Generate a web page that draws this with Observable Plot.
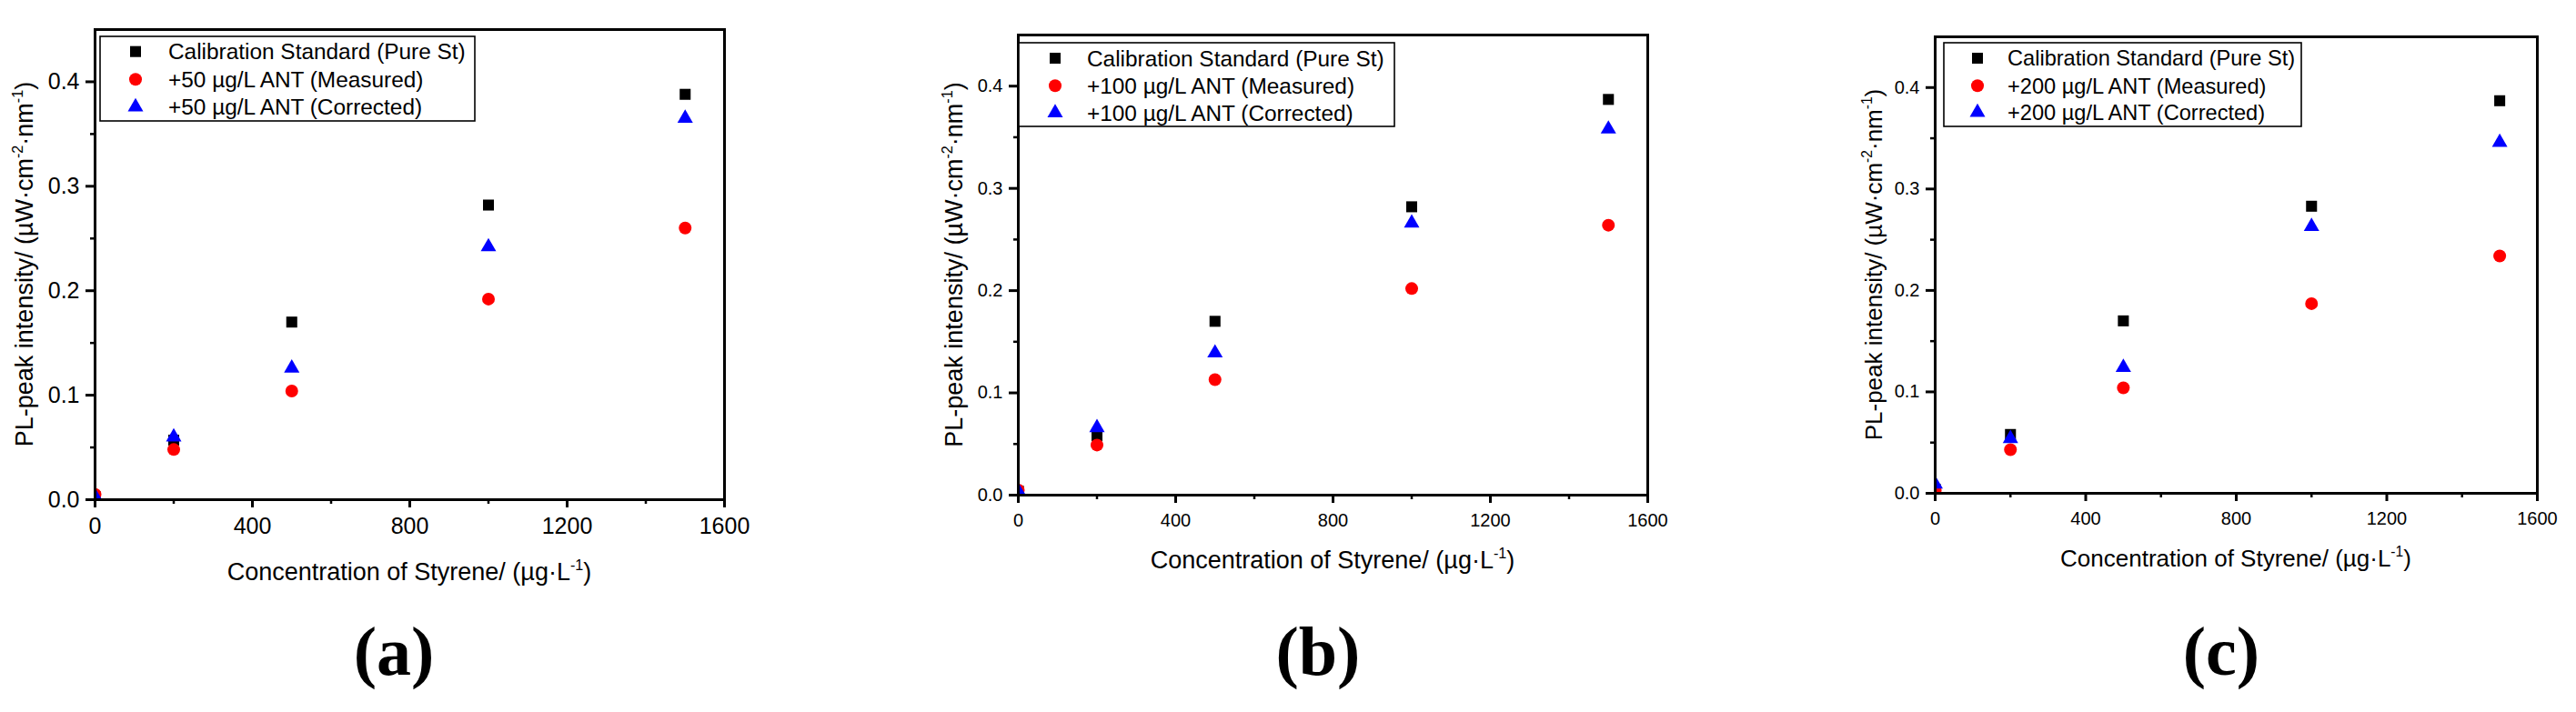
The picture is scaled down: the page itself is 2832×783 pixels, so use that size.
<!DOCTYPE html>
<html><head><meta charset="utf-8">
<script src="https://cdn.jsdelivr.net/npm/d3@7"></script>
<script src="https://cdn.jsdelivr.net/npm/@observablehq/plot@0.6"></script>
<style>
html,body{margin:0;padding:0;background:#fff;}
#wrap{position:relative;width:2832px;height:783px;overflow:hidden;background:#fff;}
.panel{position:absolute;top:0;}
</style></head><body><div id="wrap"></div>
<script>
// ---- data ----
const concentration = [0, 200, 500, 1000, 1500];

const standardA  = [0.003, 0.057, 0.170, 0.282, 0.388];
const measuredA  = [0.005, 0.048, 0.104, 0.192, 0.260];
const correctedA = [0.003, 0.060, 0.126, 0.242, 0.365];

const standardB  = [0.004, 0.058, 0.170, 0.282, 0.387];
const measuredB  = [0.005, 0.049, 0.113, 0.202, 0.264];
const correctedB = [0.004, 0.066, 0.139, 0.266, 0.358];

const standardC  = [0.004, 0.058, 0.170, 0.283, 0.387];
const measuredC  = [0.003, 0.043, 0.104, 0.187, 0.234];
const correctedC = [0.009, 0.054, 0.124, 0.263, 0.346];

const namesA = ["Calibration Standard (Pure St)", "+50 µg/L ANT (Measured)", "+50 µg/L ANT (Corrected)"];
const namesB = ["Calibration Standard (Pure St)", "+100 µg/L ANT (Measured)", "+100 µg/L ANT (Corrected)"];
const namesC = ["Calibration Standard (Pure St)", "+200 µg/L ANT (Measured)", "+200 µg/L ANT (Corrected)"];

const panelLetters = ["(a)", "(b)", "(c)"];

const xTicks = [0, 400, 800, 1200, 1600];
const xMinor = [200, 600, 1000, 1400];
const yTicks = [0, 0.1, 0.2, 0.3, 0.4];
const yMinor = [0.05, 0.15, 0.25, 0.35];
const xDomain = [0, 1600];
const yDomain = [0, 0.45];

// ---- layout ----
const panels = [
  {series:[standardA, measuredA, correctedA], names:namesA, letter:panelLetters[0],
   left:0, ml:104, mr:148, mt:32, mb:234, tickFs:25, titleFs:27,
   legend:{x0:110, y0:40, x1:522, y1:133, sx:149, tx:185, rows:[56.7, 87.3, 117.5], fs:24.4},
   xTitleY:638, yTitleX:36, letterX:433},
  {series:[standardB, measuredB, correctedB], names:namesB, letter:panelLetters[1],
   left:944, ml:175, mr:77, mt:38, mb:239, tickFs:20, titleFs:27,
   legend:{x0:176, y0:47, x1:589, y1:139, sx:216, tx:251, rows:[64, 94.3, 124], fs:24.4},
   xTitleY:625, yTitleX:114, letterX:505},
  {series:[standardC, measuredC, correctedC], names:namesC, letter:panelLetters[2],
   left:1888, ml:239, mr:43, mt:40, mb:241, tickFs:20, titleFs:26,
   legend:{x0:249, y0:47, x1:642, y1:139, sx:286, tx:319, rows:[64, 94.3, 123.5], fs:23.6},
   xTitleY:623, yTitleX:181, letterX:554}
];

const colors = ["#000000", "#ff0000", "#0000ff"];
const symbols = ["square", "circle", "triangle"];
const radii = [6.8, 7, 6.3];
const d3Symbols = [d3.symbolSquare, d3.symbolCircle, d3.symbolTriangle];
const FONT = "'Liberation Sans', Arial, Helvetica, sans-serif";

const wrap = document.getElementById("wrap");

panels.forEach(p => {
  const W = 944, H = 783;
  const rows = p.series.map(vals => concentration.map((c, i) => ({x: c, y: vals[i]})));
  const svg = Plot.plot({
    width: W, height: H,
    marginLeft: p.ml, marginRight: p.mr, marginTop: p.mt, marginBottom: p.mb,
    style: {fontFamily: FONT, background: "transparent", color: "black", overflow: "visible"},
    x: {domain: xDomain, label: null},
    y: {domain: yDomain, label: null},
    marks: [
      ...rows.map((r, k) => Plot.dot(r, {x: "x", y: "y", symbol: symbols[k], r: radii[k], fill: colors[k], clip: true})),
      Plot.frame({stroke: "black", strokeWidth: 3}),
      Plot.axisX({ticks: xTicks, tickSize: 9, tickPadding: 11, strokeWidth: 3, fontSize: p.tickFs, tickFormat: d => String(d), label: null}),
      Plot.axisX({ticks: xMinor, tickSize: 5, strokeWidth: 2.5, tickFormat: () => "", label: null}),
      Plot.axisY({ticks: yTicks, tickSize: 10, tickPadding: 7, strokeWidth: 3, fontSize: p.tickFs, tickFormat: d3.format(".1f"), label: null}),
      Plot.axisY({ticks: yMinor, tickSize: 5, strokeWidth: 2.5, tickFormat: () => "", label: null})
    ]
  });
  svg.classList.add("panel");
  svg.style.left = p.left + "px";
  wrap.appendChild(svg);

  const s = d3.select(svg);
  const plotL = p.ml, plotR = W - p.mr, plotT = p.mt, plotB = H - p.mb;

  // legend
  const L = p.legend;
  const lg = s.append("g");
  lg.append("rect").attr("x", L.x0).attr("y", L.y0).attr("width", L.x1 - L.x0).attr("height", L.y1 - L.y0)
    .attr("fill", "white").attr("stroke", "black").attr("stroke-width", 1.6);
  p.names.forEach((name, k) => {
    lg.append("path")
      .attr("d", d3.symbol(d3Symbols[k], Math.PI * radii[k] * radii[k])())
      .attr("transform", `translate(${L.sx},${L.rows[k]})`)
      .attr("fill", colors[k]);
    lg.append("text").attr("x", L.tx).attr("y", L.rows[k]).attr("dy", "0.36em")
      .attr("text-anchor", "start")
      .attr("font-family", FONT).attr("font-size", L.fs).attr("fill", "black").text(name);
  });

  // x title
  const xt = s.append("text").attr("x", (plotL + plotR) / 2).attr("y", p.xTitleY)
    .attr("text-anchor", "middle").attr("font-family", FONT).attr("font-size", p.titleFs).attr("fill", "black");
  xt.append("tspan").text("Concentration of Styrene/ (µg·L");
  xt.append("tspan").attr("font-size", p.titleFs * 0.6).attr("dy", -p.titleFs * 0.42).text("-1");
  xt.append("tspan").attr("dy", p.titleFs * 0.42).text(")");

  // y title
  const cy = (plotT + plotB) / 2;
  const yt = s.append("text").attr("transform", `translate(${p.yTitleX},${cy}) rotate(-90)`)
    .attr("text-anchor", "middle").attr("font-family", FONT).attr("font-size", p.titleFs).attr("fill", "black");
  yt.append("tspan").text("PL-peak intensity/ (µW·cm");
  yt.append("tspan").attr("font-size", p.titleFs * 0.6).attr("dy", -p.titleFs * 0.42).text("-2");
  yt.append("tspan").attr("dy", p.titleFs * 0.42).text("·nm");
  yt.append("tspan").attr("font-size", p.titleFs * 0.6).attr("dy", -p.titleFs * 0.42).text("-1");
  yt.append("tspan").attr("dy", p.titleFs * 0.42).text(")");

  // panel letter
  s.append("text").attr("x", p.letterX).attr("y", 742).attr("text-anchor", "middle")
    .attr("font-family", "'Liberation Serif', 'Times New Roman', serif").attr("font-weight", "bold")
    .attr("font-size", 76).attr("fill", "black").text(p.letter);
});
</script></body></html>
